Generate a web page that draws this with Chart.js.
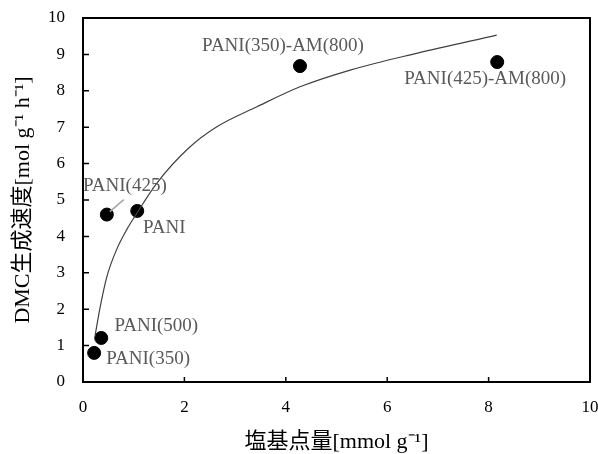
<!DOCTYPE html>
<html>
<head>
<meta charset="utf-8">
<script src="https://cdn.jsdelivr.net/npm/chart.js@4/dist/chart.umd.min.js"></script>
<style>
  html, body { margin: 0; padding: 0; background: #fff; }
  #wrap { width: 598px; height: 454px; }
</style>
</head>
<body>
<div id="wrap"><canvas id="grafica"></canvas></div>
<script>
"use strict";

// datos
const muestras   = ["PANI(350)", "PANI(500)", "PANI(425)", "PANI", "PANI(350)-AM(800)", "PANI(425)-AM(800)"];
const basicidad  = [0.22, 0.36, 0.47, 1.07, 4.28, 8.17];
const velocidad  = [0.80, 1.21, 4.60, 4.70, 8.68, 8.79];

// curva de tendencia (leída punto a punto)
const curvaX = [0.24, 0.34, 0.47, 0.66, 0.86, 1.06, 1.45, 2.08, 2.64, 3.43, 4.28, 5.27, 6.58, 8.16];
const curvaY = [1.29, 2.07, 2.89, 3.63, 4.18, 4.63, 5.45, 6.42, 7.01, 7.56, 8.11, 8.57, 9.03, 9.53];

const ticksX = [0, 2, 4, 6, 8, 10];
const ticksY = [0, 1, 2, 3, 4, 5, 6, 7, 8, 9, 10];

const tituloX = "塩基点量[mmol g⁻¹]";
const tituloY = "DMC生成速度[mol g⁻¹ h⁻¹]";

// desplazamiento de cada etiqueta respecto a su punto (px)
const offsetsEtiqueta = [[54, 6], [55, -12], [18, -29], [27, 17], [-17, -20], [-12, 17]];

const fuente = "'Liberation Serif', 'Noto Sans CJK JP', serif";

const puntos = basicidad.map((x, i) => ({ x: x, y: velocidad[i] }));
const curva  = curvaX.map((x, i) => ({ x: x, y: curvaY[i] }));

function sinRelleno(s) {
    s.paddingTop = 0;
    s.paddingBottom = 0;
    s.paddingLeft = 0;
    s.paddingRight = 0;
}

// marco completo + marcas hacia dentro
const marcoPlugin = {
    id: "marco",
    afterDraw(chart) {
        const a = chart.chartArea;
        const c = chart.ctx;
        const sx = chart.scales.x;
        const sy = chart.scales.y;
        c.save();
        c.strokeStyle = "#000";
        c.lineWidth = 1.5;
        c.beginPath();
        ticksX.forEach(v => {
            const px = sx.getPixelForValue(v);
            c.moveTo(px, a.bottom);
            c.lineTo(px, a.bottom - 5);
        });
        ticksY.forEach(v => {
            const py = sy.getPixelForValue(v);
            c.moveTo(a.left, py);
            c.lineTo(a.left + 6, py);
        });
        c.stroke();
        c.lineWidth = 2;
        c.strokeRect(a.left, a.top, a.right - a.left, a.bottom - a.top);
        c.restore();
    }
};

const etiquetasPlugin = {
    id: "etiquetas",
    afterDatasetsDraw(chart) {
        const meta = chart.getDatasetMeta(1);
        const c = chart.ctx;
        c.save();
        c.font = "19px " + fuente;
        c.fillStyle = "#595959";
        c.textAlign = "center";
        c.textBaseline = "middle";
        meta.data.forEach((p, i) => {
            const off = offsetsEtiqueta[i];
            c.fillText(muestras[i], p.x + off[0], p.y + off[1]);
        });
        // línea guía de PANI(425)
        const p = meta.data[2];
        c.strokeStyle = "#a6a6a6";
        c.lineWidth = 1.5;
        c.beginPath();
        c.moveTo(p.x + 3, p.y - 3);
        c.lineTo(p.x + 17, p.y - 15);
        c.stroke();
        c.restore();
    }
};

new Chart(document.getElementById("grafica").getContext("2d"), {
    type: "scatter",
    data: {
        datasets: [
            {
                type: "line",
                label: "tendencia",
                data: curva,
                borderColor: "#404040",
                borderWidth: 1.2,
                pointRadius: 0,
                fill: false,
                cubicInterpolationMode: "monotone"
            },
            {
                label: "muestras",
                data: puntos,
                backgroundColor: "#000",
                borderColor: "#000",
                pointRadius: 6.5,
                pointHoverRadius: 6.5
            }
        ]
    },
    options: {
        responsive: true,
        maintainAspectRatio: false,
        animation: false,
        layout: { autoPadding: false, padding: { top: 18, right: 8, left: 0, bottom: 0 } },
        plugins: {
            legend: { display: false },
            tooltip: { enabled: false }
        },
        scales: {
            x: {
                type: "linear",
                min: 0,
                max: 10,
                afterBuildTicks: s => { s.ticks = ticksX.map(v => ({ value: v })); },
                afterFit: s => { s.height = 72; sinRelleno(s); },
                grid: { drawOnChartArea: false, drawTicks: false },
                border: { color: "#000", width: 2 },
                ticks: { color: "#000", padding: 15, font: { family: fuente, size: 17 } },
                title: {
                    display: true,
                    text: tituloX,
                    color: "#000",
                    font: { family: fuente, size: 22, lineHeight: 1.1 },
                    padding: 0
                }
            },
            y: {
                type: "linear",
                min: 0,
                max: 10,
                afterBuildTicks: s => { s.ticks = ticksY.map(v => ({ value: v })); },
                afterFit: s => { s.width = 83; sinRelleno(s); },
                grid: { drawOnChartArea: false, drawTicks: false },
                border: { color: "#000", width: 2 },
                ticks: { color: "#000", padding: 18, font: { family: fuente, size: 17 } },
                title: {
                    display: true,
                    text: tituloY,
                    color: "#000",
                    font: { family: fuente, size: 22 },
                    padding: { top: 10, bottom: 0 }
                }
            }
        }
    },
    plugins: [marcoPlugin, etiquetasPlugin]
});
</script>
</body>
</html>
